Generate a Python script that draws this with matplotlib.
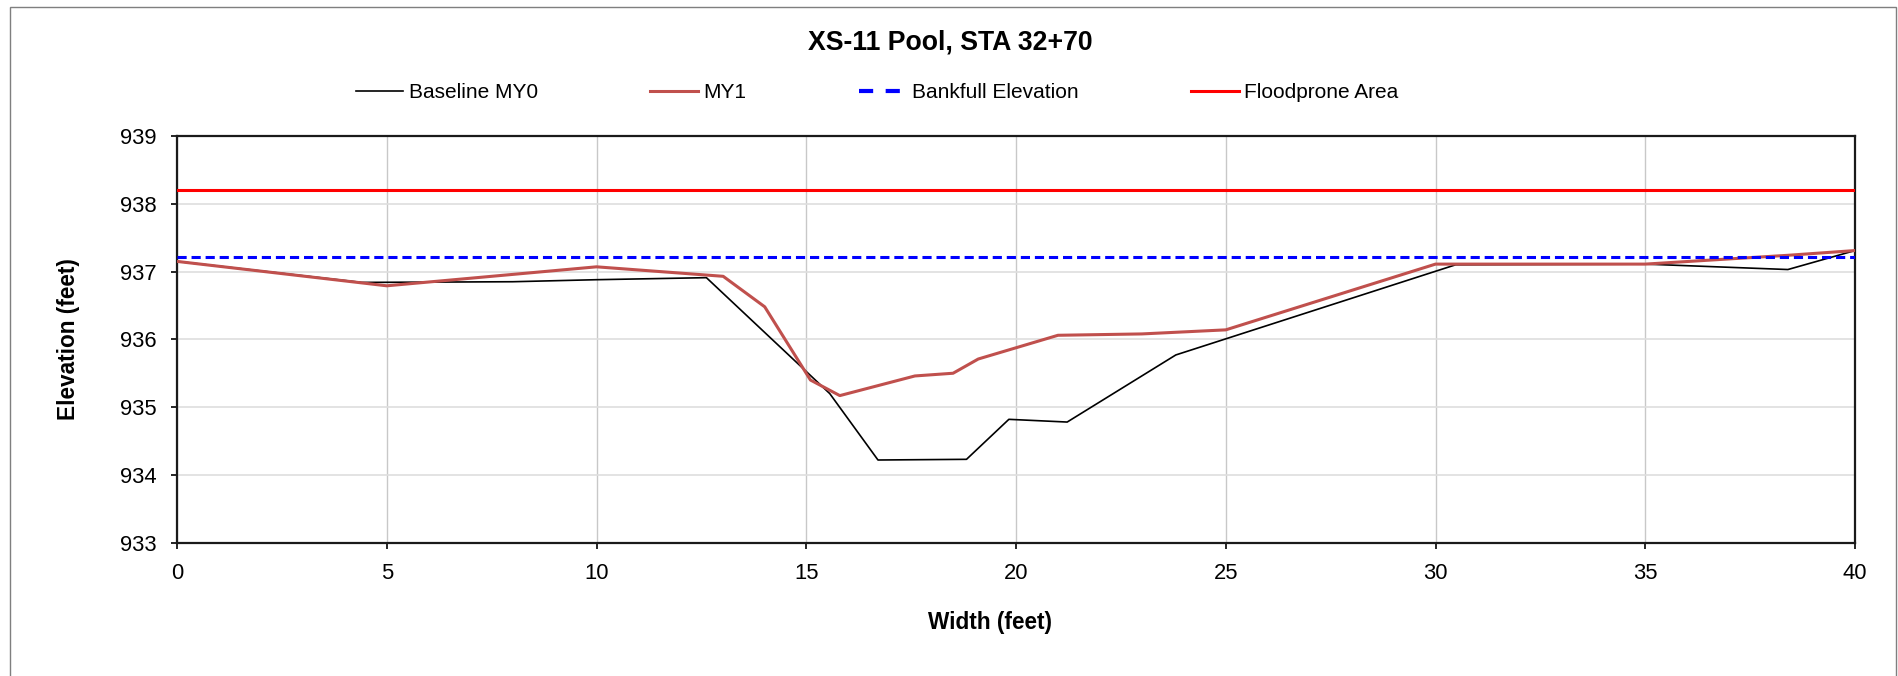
import matplotlib
matplotlib.use("Agg")
import matplotlib.pyplot as plt
from matplotlib.patches import Rectangle
from matplotlib.lines import Line2D

plt.rcParams['font.family'] = ['Liberation Sans', 'DejaVu Sans']

# ---- data ----
title = "XS-11 Pool, STA 32+70"
baseline_x = [0, 4.4, 8.0, 10.0, 12.62, 15.56, 16.71, 18.82, 19.83, 21.22, 23.81, 30.48, 35.0, 38.40, 40.0]
baseline_y = [937.15, 936.84, 936.85, 936.88, 936.91, 935.20, 934.22, 934.23, 934.82, 934.78, 935.77, 937.10, 937.11, 937.03, 937.31]
my1_x = [0, 5.0, 10.0, 13.02, 14.01, 15.10, 15.80, 17.59, 18.50, 19.10, 21.0, 23.0, 25.0, 30.0, 35.0, 38.4, 40.0]
my1_y = [937.15, 936.79, 937.07, 936.93, 936.48, 935.40, 935.17, 935.46, 935.50, 935.71, 936.06, 936.08, 936.14, 937.11, 937.11, 937.24, 937.31]
bankfull_x = [0, 40]
bankfull_y = [937.22, 937.22]
floodprone_x = [0, 40]
floodprone_y = [938.21, 938.21]
x_ticks = [0, 5, 10, 15, 20, 25, 30, 35, 40]
y_ticks = [933, 934, 935, 936, 937, 938, 939]
series_labels = ['Baseline MY0', 'MY1', 'Bankfull Elevation', 'Floodprone Area']

W, H = 1898, 676
fig = plt.figure(figsize=(W / 100, H / 100), dpi=100)
ax = fig.add_axes([177 / W, 1 - 542.7 / H, (1855 - 177) / W, (542.7 - 136) / H])

l0, = ax.plot(baseline_x, baseline_y, color='black', lw=1.2, zorder=3)
l1, = ax.plot(my1_x, my1_y, color='#C0504D', lw=2.2, zorder=4)
ax.plot(bankfull_x, bankfull_y, color='#0000FF', lw=2.2, ls=(0, (3, 1.6)), zorder=5)
l3, = ax.plot(floodprone_x, floodprone_y, color='#FF0000', lw=2.2, zorder=5)

ax.set_xlim(0, 40)
ax.set_ylim(933, 939)
ax.set_xticks(x_ticks)
ax.set_yticks(y_ticks)
ax.tick_params(labelsize=15.8, length=4.5, width=1.2, pad=10, direction='out', colors='black')
for s in ax.spines.values():
    s.set_linewidth(1.6)
    s.set_color('#1a1a1a')
ax.xaxis.grid(True, color='#c8c8c8', lw=1.0)
ax.yaxis.grid(True, color='#dedede', lw=1.2)
ax.set_axisbelow(True)

fig.text(950 / W, 1 - 42 / H, title, ha='center', va='center', fontsize=19.2, fontweight='bold')
fig.text(990 / W, 1 - 623 / H, 'Width (feet)', ha='center', va='center', fontsize=16.3, fontweight='bold')
fig.text(68 / W, 1 - 339 / H, 'Elevation (feet)', ha='center', va='center', rotation=90,
         fontsize=16.3, fontweight='bold')

bank_handle = Line2D([], [], color='#0000FF', lw=3.0, ls=(0, (3.4, 3.0)))
handles = [l0, l1, bank_handle, l3]
fig.legend(handles, series_labels, ncol=4, loc='center', bbox_to_anchor=(877 / W, 1 - 93 / H),
           frameon=False, fontsize=15, handlelength=2.3, handletextpad=0.25,
           columnspacing=5.4, borderpad=0, borderaxespad=0)

fig.patches.append(Rectangle((9.5 / W, -0.05), (1896 - 9.5) / W, 1.05 - 7 / H, transform=fig.transFigure,
                             fill=False, edgecolor='#7f7f7f', lw=1.0, clip_on=False))

fig.savefig('out.png', dpi=100)
